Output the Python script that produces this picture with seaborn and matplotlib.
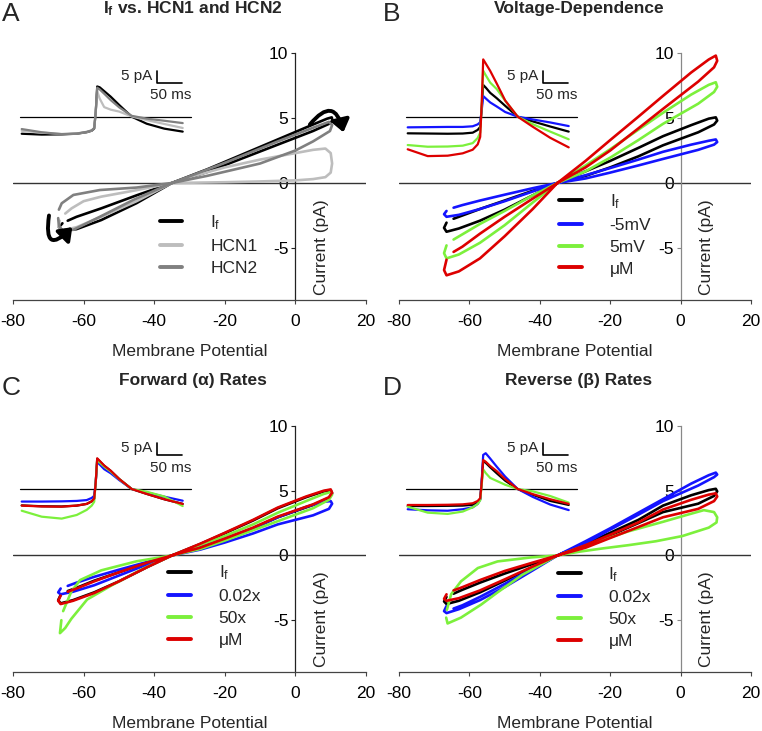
import matplotlib
matplotlib.use("Agg")
import matplotlib.pyplot as plt
import seaborn as sns
from matplotlib.patches import FancyArrowPatch

sns.set_style("white")
plt.rcParams["font.family"] = ["Liberation Sans", "DejaVu Sans"]
plt.rcParams["mathtext.fontset"] = "custom"
plt.rcParams["mathtext.rm"] = "Liberation Sans"
plt.rcParams["mathtext.it"] = "Liberation Sans:italic"
plt.rcParams["mathtext.bf"] = "Liberation Sans:bold"
plt.rcParams["axes.unicode_minus"] = False

# ---------------- data ----------------
# panel A loops: membrane potential (mV) and current (pA) along the cycle
A_IF_V = [-66.0, -67.0, -66.0, -62, -55, -45, -35, -25, -15, -5, 5, 9.0, 10.3, 10.5, 9.5,
          5, -5, -15, -25, -35, -45, -55, -62, -64.5]
A_IF_I = [-3.1, -3.4, -3.65, -3.55, -2.85, -1.55, 0, 1.05, 2.2, 3.35, 4.5, 4.95, 5.05, 4.8, 4.55,
          4.0, 2.95, 1.9, 0.85, 0, -0.95, -1.95, -2.6, -2.9]
A_HCN1_V = [-66.8, -67.0, -66, -62, -55, -45, -35, -30, -20, -10, 0, 5, 8.5, 10.0, 10.4, 10.0,
            8.5, 5, 0, -10, -20, -35, -45, -55, -60, -63.4, -65.2]
A_HCN1_I = [-2.9, -3.4, -3.65, -3.4, -2.6, -1.4, 0, 0.45, 1.2, 1.8, 2.3, 2.55, 2.65, 2.3, 1.5, 0.8,
            0.45, 0.3, 0.2, 0.12, 0.06, 0, -0.55, -1.05, -1.4, -1.95, -2.35]
A_HCN2_V = [-67.2, -67.0, -66, -62.9, -55.4, -45.9, -35, -20, -5, 5, 9.5, 10.4, 9.8, 8.6, 5, 0,
            -10, -16.3, -25, -35, -45, -55.4, -62.9, -66.2, -67.0]
A_HCN2_I = [-2.7, -3.3, -3.65, -3.6, -2.6, -1.3, 0, 1.55, 3.2, 4.25, 4.7, 4.45, 4.0, 3.8, 3.2, 2.5,
            1.5, 1.1, 0.55, 0, -0.35, -0.54, -0.92, -1.56, -2.05]

# common voltage path used by the thin loops of panels B-D
V_PATH = [-66.5, -67.2, -66.5, -63, -57, -50, -42, -35, -27, -20, -12, -5, 3, 8, 10, 10.4,
          9.5, 5, -5, -12, -20, -27, -35, -42, -50, -57, -62, -64.5]

# panel B loops
B_IF_I = [-3.05, -3.45, -3.75, -3.5, -2.9, -2.05, -0.95, 0, 0.9, 1.7, 2.7, 3.6, 4.45, 4.95, 5.05, 4.8,
          4.5, 3.9, 2.9, 2.05, 1.2, 0.55, 0, -0.6, -1.35, -2.0, -2.5, -2.75]
B_M5_I = [-2.15, -2.4, -2.6, -2.45, -2.0, -1.4, -0.65, 0, 0.6, 1.15, 1.8, 2.4, 2.95, 3.25, 3.35, 3.15,
          2.95, 2.55, 1.85, 1.35, 0.8, 0.35, 0, -0.4, -0.9, -1.35, -1.7, -1.9]
B_P5_I = [-4.8, -5.4, -5.8, -5.5, -4.6, -3.25, -1.5, 0, 1.35, 2.6, 4.1, 5.4, 6.8, 7.55, 7.75, 7.4,
          7.0, 6.1, 4.55, 3.3, 1.95, 0.9, 0, -0.95, -2.15, -3.15, -3.95, -4.35]
B_UM_I = [-5.9, -6.7, -7.1, -6.8, -5.8, -4.1, -2.0, 0, 1.7, 3.3, 5.1, 6.7, 8.5, 9.5, 9.8, 9.4,
          8.9, 7.8, 5.7, 4.2, 2.5, 1.2, 0, -1.2, -2.6, -3.9, -4.9, -5.3]

# panel C loops
C_IF_I = [-3.05, -3.45, -3.7, -3.45, -2.85, -2.0, -0.9, 0, 0.88, 1.72, 2.7, 3.65, 4.5, 4.95, 5.05, 4.8,
          4.45, 3.9, 2.95, 2.1, 1.25, 0.58, 0, -0.55, -1.3, -1.95, -2.5, -2.75]
C_A002_I = [-2.55, -2.85, -3.0, -2.8, -2.3, -1.55, -0.7, 0, 0.65, 1.3, 2.1, 2.95, 3.75, 4.15, 4.2, 4.0,
            3.6, 3.1, 2.4, 1.7, 1.0, 0.45, 0, -0.5, -1.1, -1.65, -2.1, -2.35]
C_A50_V = [-66.3, -66.7, -65.2, -63.5, -59, -52, -43, -35, -27, -20, -12, -5, 3, 8, 10, 10.4,
           9.5, 5, -5, -12, -20, -27, -35, -45, -55, -61, -63.5, -65.8]
C_A50_I = [-5.0, -6.0, -5.6, -4.9, -3.4, -2.3, -1.0, 0, 0.8, 1.5, 2.4, 3.3, 4.2, 4.75, 4.9, 4.7,
           4.3, 3.65, 2.65, 1.95, 1.15, 0.5, 0, -0.45, -1.15, -1.9, -2.8, -4.3]
C_UM_I = [-3.1, -3.5, -3.75, -3.5, -2.9, -2.0, -0.9, 0, 0.9, 1.75, 2.75, 3.7, 4.55, 5.0, 5.1, 4.85,
          4.5, 3.95, 3.0, 2.15, 1.3, 0.6, 0, -0.55, -1.3, -2.0, -2.55, -2.8]

# panel D loops
D_IF_I = [-3.2, -3.55, -3.75, -3.5, -2.85, -1.95, -0.9, 0, 0.9, 1.75, 2.75, 3.85, 4.65, 5.05, 5.15, 4.95,
          4.6, 4.0, 3.35, 2.5, 1.55, 0.7, 0, -0.65, -1.4, -2.1, -2.65, -2.95]
D_B002_I = [-3.9, -4.3, -4.45, -4.15, -3.45, -2.45, -1.15, 0, 1.1, 2.1, 3.3, 4.35, 5.55, 6.2, 6.4, 6.25,
            6.05, 5.4, 4.2, 3.15, 2.0, 0.95, 0, -1.0, -2.2, -3.2, -3.85, -4.1]
D_B50_V = [-66.6, -66.2, -62.4, -56.7, -52, -45, -35, -25, -15, -5, 2, 6.6, 9.5, 10.4, 10.2, 8,
           0.5, -7, -14.7, -22, -28.6, -35, -42.5, -52, -57.6, -62.4, -65.2, -66.4]
D_B50_I = [-4.8, -5.25, -4.8, -3.8, -2.85, -1.5, 0, 0.95, 1.85, 2.6, 3.15, 3.5, 3.35, 2.95, 2.55, 2.15,
           1.5, 1.1, 0.8, 0.55, 0.3, 0, -0.15, -0.46, -0.97, -2.0, -3.0, -4.2]
D_UM_I = [-3.0, -3.35, -3.5, -3.3, -2.7, -1.85, -0.85, 0, 0.8, 1.6, 2.55, 3.55, 4.3, 4.7, 4.8, 4.55,
          4.2, 3.6, 2.95, 2.2, 1.35, 0.6, 0, -0.55, -1.2, -1.9, -2.45, -2.7]

# inset current traces (ms, pA)
T_INS = [0, 40, 80, 110, 130, 140, 145, 148, 151, 156, 165, 178, 195, 220, 250, 285, 322]
A_INS_IF = [-8.0, -8.4, -8.3, -8.0, -7.3, -6.6, -5.6, 2.0, 14.2, 13.8, 12.0, 9.4, 5.5, 0.0, -3.3, -5.6, -7.0]
A_INS_HCN1 = [-6.6, -7.5, -8.1, -7.9, -7.2, -6.5, -5.4, 2.0, 12.0, 8.5, 4.5, 3.3, 2.4, 0.1, -1.6, -3.4, -5.3]
A_INS_HCN2 = [-5.8, -7.3, -8.2, -7.9, -7.1, -6.4, -5.3, 2.0, 13.6, 12.8, 10.8, 7.8, 4.4, 0.4, -0.9, -1.9, -3.0]
B_INS_IF = [-7.8, -7.9, -8.0, -7.9, -7.5, -6.2, -4.8, 4.0, 14.9, 13.7, 11.2, 8.7, 5.1, 0.0, -2.2, -4.6, -7.0]
B_INS_M5 = [-5.0, -4.9, -4.8, -4.8, -4.5, -3.6, -2.6, 3.0, 9.7, 8.6, 6.7, 4.8, 2.2, 0.0, -1.3, -2.7, -4.4]
B_INS_P5 = [-13.3, -14.1, -14.0, -13.6, -12.4, -10.0, -7.5, 5.0, 21.6, 19.5, 16.0, 13.0, 7.5, 0.0, -3.5, -7.0, -10.6]
B_INS_UM = [-15.3, -18.5, -18.3, -17.2, -15.5, -13.0, -9.5, 6.0, 26.9, 25.0, 21.5, 15.6, 7.6, 0.0, -4.7, -9.9, -14.4]
C_INS_IF = [-7.7, -8.1, -8.2, -7.8, -7.0, -5.8, -4.5, 3.0, 14.2, 13.0, 10.9, 8.5, 4.7, 0.0, -2.3, -4.8, -7.0]
C_INS_A002 = [-5.9, -5.9, -5.8, -5.6, -5.2, -4.2, -3.2, 3.0, 12.8, 11.5, 9.3, 7.4, 4.2, 0.0, -1.6, -3.6, -5.5]
C_INS_A50 = [-10.2, -13.0, -13.9, -12.2, -9.8, -7.8, -6.0, 3.0, 13.6, 12.4, 10.5, 8.2, 4.6, 0.0, -1.3, -3.5, -8.0]
C_INS_UM = [-7.8, -8.2, -8.3, -7.8, -7.0, -5.8, -4.5, 3.0, 14.4, 13.2, 11.0, 8.6, 4.7, 0.0, -2.3, -4.8, -7.0]
D_INS_IF = [-8.0, -8.0, -7.9, -7.8, -7.4, -6.2, -4.8, 3.0, 13.3, 12.3, 10.2, 7.4, 3.9, 0.0, -2.7, -5.6, -7.5]
D_INS_B002 = [-9.5, -10.0, -10.2, -9.5, -8.6, -7.0, -5.0, 4.0, 16.0, 16.8, 14.3, 10.5, 5.8, 0.0, -3.7, -7.3, -9.9]
D_INS_B50 = [-8.3, -11.1, -11.7, -10.6, -8.6, -7.0, -5.3, 2.0, 9.2, 7.5, 5.2, 3.8, 2.0, 0.0, -1.1, -3.3, -6.4]
D_INS_UM = [-7.5, -7.5, -7.4, -7.2, -6.7, -5.6, -4.3, 3.0, 13.6, 12.8, 10.8, 8.4, 4.6, 0.0, -2.4, -4.8, -7.0]

IF_LABEL = r"I$_\mathregular{f}$"
LABELS_A = [IF_LABEL, "HCN1", "HCN2"]
LABELS_B = [IF_LABEL, "-5mV", "5mV", "\u03bcM"]
LABELS_CD = [IF_LABEL, "0.02x", "50x", "\u03bcM"]
TITLES = [r"$\mathbf{I_f}$ vs. HCN1 and HCN2", "Voltage-Dependence",
          "Forward (\u03b1) Rates", "Reverse (\u03b2) Rates"]
X_TICKS = [-80, -60, -40, -20, 0, 20]
Y_TICKS = [-5, 0, 5, 10]

COL_A = ["#000000", "#bdbdbd", "#808080"]
COL_4 = ["#000000", "#1414ff", "#7cf03c", "#dd0000"]

FS = 12.5

# ---------------- figure ----------------
W, H = 762, 731
fig = plt.figure(figsize=(W / 100, H / 100), dpi=100)


def rect(l, t, r, b):
    return [l / W, 1 - b / H, (r - l) / W, (b - t) / H]


def panel(box, ins_left, ins_base, loops, ins_traces, labels, colors, leg_xy, spine_col):
    ax = fig.add_axes(rect(*box))
    ax.set_xlim(-80, 20)
    ax.set_ylim(-9, 10)
    ax.axhline(0, color="#333333", lw=1.0, zorder=1)
    for (v, i), lab, c in zip(loops, labels, colors):
        sns.lineplot(x=v, y=i, sort=False, estimator=None, color=c, lw=1.9,
                     label=lab, ax=ax, zorder=3)
    for s in ["top", "right"]:
        ax.spines[s].set_visible(False)
    ax.spines["left"].set_position(("data", 0))
    ax.spines["left"].set_color(spine_col)
    ax.spines["bottom"].set_color("#444444")
    for s in ["left", "bottom"]:
        ax.spines[s].set_linewidth(0.9)
    ax.set_xticks(X_TICKS)
    ax.set_yticks(Y_TICKS)
    ax.tick_params(axis="x", direction="out", length=3, width=0.8, labelsize=FS,
                   bottom=True, pad=7, colors="#444444", labelcolor="black")
    ax.tick_params(axis="y", direction="out", length=3, width=0.8, labelsize=FS,
                   left=True, pad=2, colors=spine_col, labelcolor="black")
    ax.set_xlabel("Membrane Potential", fontsize=FS, labelpad=11)
    ax.set_ylabel("")
    ax.text(0.875, 0.215, "Current (pA)", transform=ax.transAxes, rotation=90,
            ha="center", va="center", fontsize=FS)
    leg = ax.legend(loc="upper left", bbox_to_anchor=leg_xy, frameon=False, fontsize=FS,
                    handlelength=1.3, handletextpad=1.6, labelspacing=0.38,
                    borderaxespad=0, borderpad=0)
    for h in leg.legend_handles:
        h.set_linewidth(2.8)

    # inset with the current trace and scale bar
    px_ms, px_pa = 0.5, 2.13
    l = ins_left - 15 * px_ms
    t = ins_base - 30 * px_pa
    iax = fig.add_axes(rect(l, t, l + 360 * px_ms, t + 50 * px_pa))
    iax.set_xlim(-15, 345)
    iax.set_ylim(-20, 30)
    iax.axis("off")
    iax.plot([-3, 339], [0, 0], color="black", lw=0.9)
    for vals, c in zip(ins_traces, colors):
        sns.lineplot(x=T_INS, y=vals, sort=False, estimator=None, color=c, lw=1.6, ax=iax)
    iax.plot([270, 270, 320], [21.5, 15.8, 15.8], color="black", lw=1.2)
    iax.text(262, 19.3, "5 pA", ha="right", va="center", fontsize=11)
    iax.text(297, 10.0, "50 ms", ha="center", va="center", fontsize=11)
    return ax


axA = panel((13, 53, 366, 300), 21.7, 116.7,
            [(A_IF_V, A_IF_I), (A_HCN1_V, A_HCN1_I), (A_HCN2_V, A_HCN2_I)],
            [A_INS_IF, A_INS_HCN1, A_INS_HCN2], LABELS_A, COL_A, (0.416, 0.35), "#222222")
axB = panel((399, 53, 751, 300), 407.7, 116.7,
            [(V_PATH, B_IF_I), (V_PATH, B_M5_I), (V_PATH, B_P5_I), (V_PATH, B_UM_I)],
            [B_INS_IF, B_INS_M5, B_INS_P5, B_INS_UM], LABELS_B, COL_4, (0.455, 0.435), "#888888")
axC = panel((13, 426, 366, 672), 21.7, 489,
            [(V_PATH, C_IF_I), (V_PATH, C_A002_I), (C_A50_V, C_A50_I), (V_PATH, C_UM_I)],
            [C_INS_IF, C_INS_A002, C_INS_A50, C_INS_UM], LABELS_CD, COL_4, (0.44, 0.44), "#222222")
axD = panel((399, 426, 751, 672), 407.7, 489,
            [(V_PATH, D_IF_I), (V_PATH, D_B002_I), (D_B50_V, D_B50_I), (V_PATH, D_UM_I)],
            [D_INS_IF, D_INS_B002, D_INS_B50, D_INS_UM], LABELS_CD, COL_4, (0.452, 0.435), "#888888")

# curved arrows showing the direction of the loop in panel A
for p0, p1, rad in [((4.1, 4.5), (13.6, 3.9), -1.0), ((-69.8, -2.5), (-63.2, -3.4), 1.5)]:
    axA.add_patch(FancyArrowPatch(p0, p1, connectionstyle=f"arc3,rad={rad}",
                                  arrowstyle="-|>,head_length=0.6,head_width=0.45",
                                  mutation_scale=12, lw=2.8, color="black", zorder=4,
                                  shrinkA=0, shrinkB=0, clip_on=False))

# titles and panel letters
for (x, y), title in zip([(193, 9), (579, 9), (193, 381), (579, 381)], TITLES):
    fig.text(x / W, 1 - y / H, title, ha="center", va="center", fontsize=FS, fontweight="bold")
for (x, y), letter in zip([(2, 2), (383, 2), (2, 376), (383, 376)], "ABCD"):
    fig.text(x / W, 1 - y / H, letter, ha="left", va="top", fontsize=19)

fig.savefig("out.png", dpi=100)
